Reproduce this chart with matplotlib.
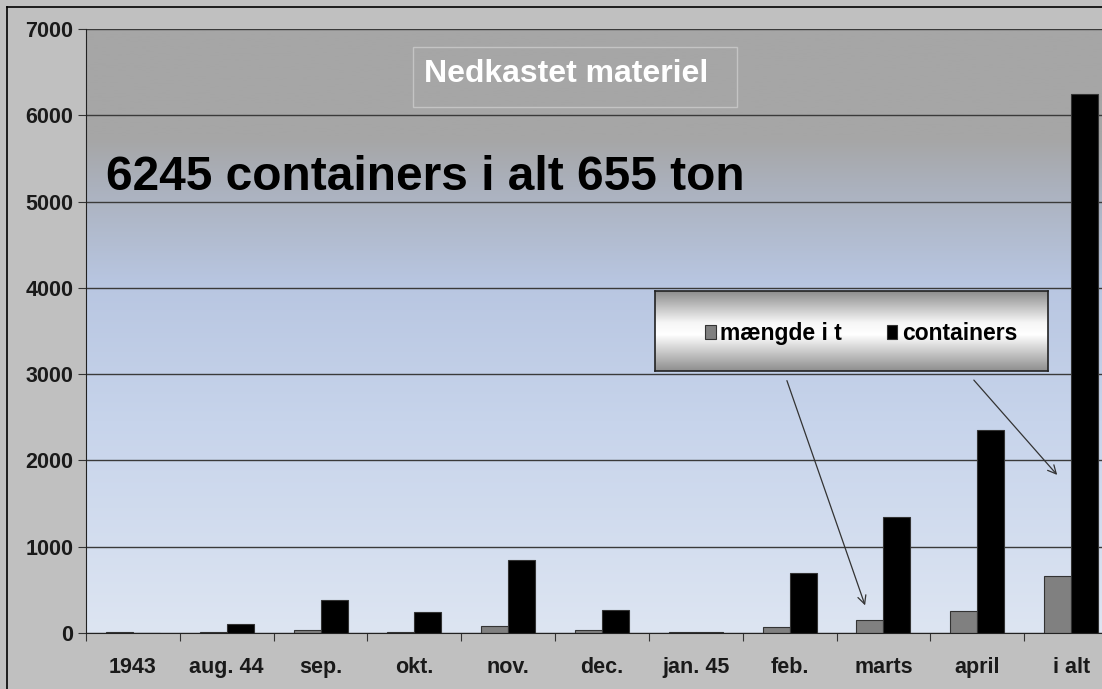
import numpy as np
import matplotlib
matplotlib.use("Agg")
import matplotlib.pyplot as plt
from matplotlib.colors import LinearSegmentedColormap
from matplotlib.patches import Rectangle, FancyArrowPatch
from matplotlib.lines import Line2D

categories = ["1943", "aug. 44", "sep.", "okt.", "nov.", "dec.", "jan. 45", "feb.", "marts", "april", "i alt"]
maengde_i_t = [10, 10, 35, 10, 85, 30, 10, 65, 145, 255, 655]
containers = [0, 110, 380, 240, 850, 270, 15, 690, 1340, 2350, 6245]
yticks = [0, 1000, 2000, 3000, 4000, 5000, 6000, 7000]
series_labels = ["mængde i t", "containers"]
title_text = "Nedkastet materiel"
note_text = "6245 containers i alt 655 ton"

W, H = 1102, 689
fig = plt.figure(figsize=(W / 100, H / 100), dpi=100)
fig.patch.set_facecolor("#c0c0c0")

def fx(px):
    return px / W

def fy(py):
    return 1 - py / H

NARROW = ["Liberation Sans Narrow", "Liberation Sans", "DejaVu Sans"]
REG = ["Liberation Sans", "DejaVu Sans"]

# figure border (left/top)
fig.add_artist(Line2D([fx(7), fx(7)], [fy(7), 0], color="black", lw=1.2))
fig.add_artist(Line2D([fx(7), 1], [fy(7), fy(7)], color="black", lw=1.2))

ax = fig.add_axes([fx(86), fy(633), fx(1118 - 86), fy(29) - fy(633)])
ax.set_ylim(0, 7000)
ax.set_xlim(-0.5, len(categories) - 0.5)

# gradient background of plot area
cmap = LinearSegmentedColormap.from_list(
    "bg", [(0.0, "#dde5f2"), (0.35, "#c7d4eb"), (0.58, "#b8c6e1"),
           (0.74, "#abb1bd"), (0.82, "#a6a6a6"), (1.0, "#a6a6a6")])
grad = np.linspace(0, 1, 256).reshape(-1, 1)
ax.imshow(grad, cmap=cmap, aspect="auto", origin="lower",
          extent=[-0.5, len(categories) - 0.5, 0, 7000], zorder=0)

ax.set_yticks(yticks)
ax.yaxis.grid(True, color="#3a3a3a", lw=1.0, zorder=1)
ax.set_axisbelow(False)

x = np.arange(len(categories))
bw = 0.288
b1 = ax.bar(x - bw / 2, maengde_i_t, bw, color="#808080", edgecolor="#333333",
            lw=0.8, zorder=3, label=series_labels[0])
b2 = ax.bar(x + bw / 2, containers, bw, color="#000000", edgecolor="#333333",
            lw=0.8, zorder=3, label=series_labels[1])

for s in ["top", "right"]:
    ax.spines[s].set_visible(False)
ax.spines["left"].set_color("#222222")
ax.spines["bottom"].set_color("#222222")
ax.spines["left"].set_zorder(4)
ax.spines["bottom"].set_zorder(4)

ax.set_xticks(np.arange(len(categories) + 1) - 0.5, minor=False)
ax.set_xticklabels([])
ax.set_xticks(x, minor=True)
ax.set_xticklabels(categories, minor=True, fontsize=15.5, fontweight="bold",
                   family=NARROW, color="#1a1a1a")
ax.tick_params(axis="x", which="major", direction="out", length=6, color="#333333")
ax.tick_params(axis="x", which="minor", length=0, pad=17)
ax.tick_params(axis="y", direction="out", length=6, color="#333333", pad=3)
for lbl in ax.get_yticklabels():
    lbl.set_fontsize(15.5)
    lbl.set_fontweight("bold")
    lbl.set_family(REG)
    lbl.set_color("#1a1a1a")

# title box
fig.add_artist(Rectangle((fx(413), fy(107)), fx(737 - 413), fy(47) - fy(107),
                         transform=fig.transFigure, fill=False,
                         edgecolor="#c4c4c4", lw=1.0))
fig.text(fx(424), fy(74), title_text, color="white", fontsize=23,
         fontweight="bold", family=NARROW, va="center", ha="left")

# big note
fig.text(fx(106), fy(177), note_text, color="black", fontsize=34.5,
         fontweight="bold", family=REG, va="center", ha="left")

# legend box with gradient
lax = fig.add_axes([fx(655), fy(371), fx(1048 - 655), fy(291) - fy(371)])
lcmap = LinearSegmentedColormap.from_list(
    "lg", [(0.0, "#8e8e8e"), (0.45, "#ffffff"), (0.6, "#f6f6f6"), (1.0, "#8a8a8a")])
lax.imshow(np.linspace(0, 1, 256).reshape(-1, 1), cmap=lcmap, aspect="auto",
           origin="lower", extent=[0, 1, 0, 1])
lax.set_xticks([])
lax.set_yticks([])
for s in lax.spines.values():
    s.set_color("#222222")
    s.set_linewidth(1.2)
leg = lax.legend(handles=[b1, b2], labels=series_labels, ncol=2, loc="center",
                 bbox_to_anchor=(0.525, 0.47), frameon=False,
                 prop={"family": NARROW, "weight": "bold", "size": 16.5},
                 handlelength=0.45, handleheight=0.6, handletextpad=0.2,
                 columnspacing=1.95)

# arrows
fig.add_artist(FancyArrowPatch(
    (fx(786), fy(378)), (fx(866), fy(608)), transform=fig.transFigure,
    arrowstyle="->,head_length=6,head_width=3", color="#333333", lw=0.9))
fig.add_artist(FancyArrowPatch(
    (fx(972), fy(378)), (fx(1059), fy(477)), transform=fig.transFigure,
    arrowstyle="->,head_length=6,head_width=3", color="#333333", lw=0.9))

fig.savefig("out.png", dpi=100, facecolor=fig.get_facecolor())
